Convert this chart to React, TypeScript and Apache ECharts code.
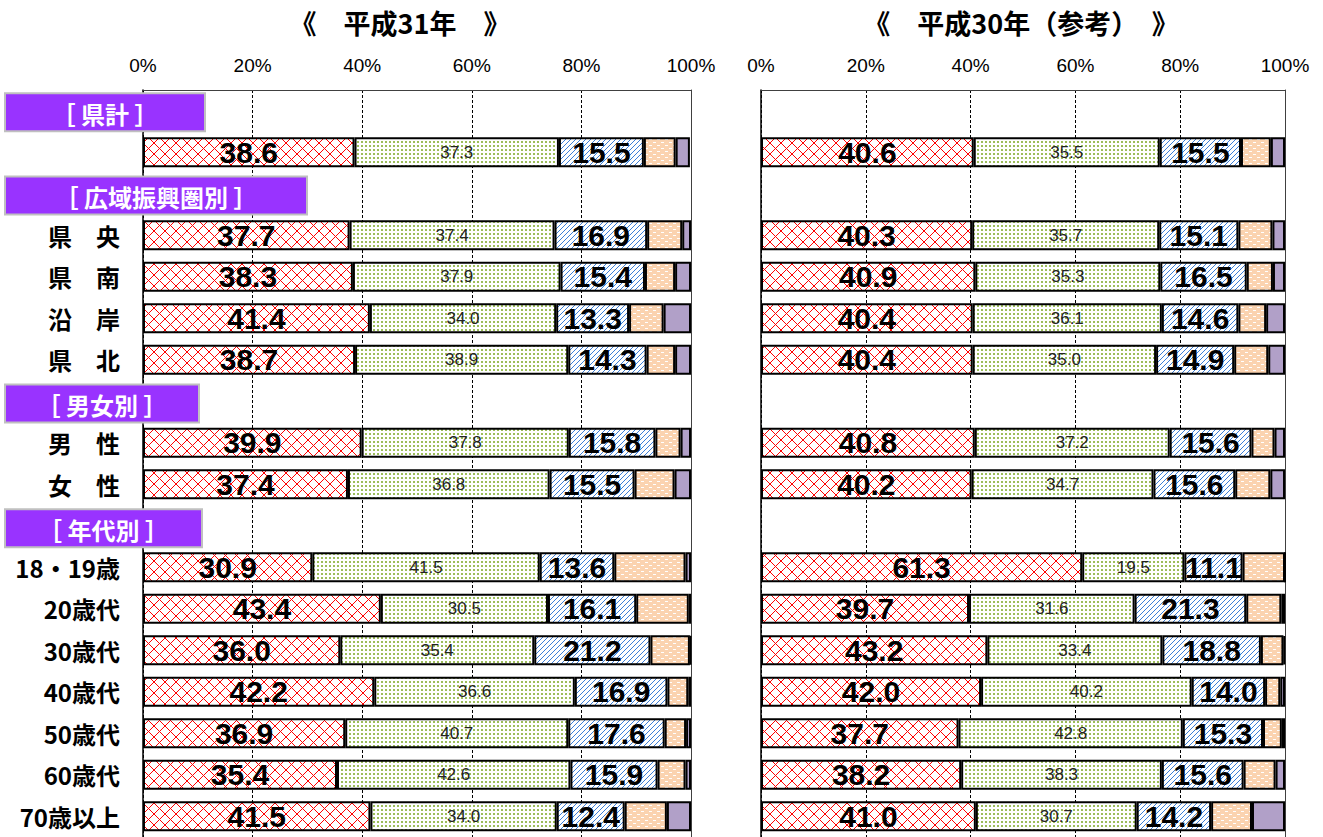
import React, { useEffect, useRef } from 'react';
import * as echarts from 'echarts';

// ---- data ----
const rowIds = ['h_total', 'total', 'h_region', 'kenou', 'kennan', 'engan', 'kenpoku', 'h_sex', 'male', 'female', 'h_age', 'a18', 'a20', 'a30', 'a40', 'a50', 'a60', 'a70'];
const rowLabels = ['', '', '', '県　央', '県　南', '沿　岸', '県　北', '', '男　性', '女　性', '', '18・19歳', '20歳代', '30歳代', '40歳代', '50歳代', '60歳代', '70歳以上'];

const headerTexts = ['［ 県計 ］', '［ 広域振興圏別 ］', '［ 男女別 ］', '［ 年代別 ］'];
const headerRows = [0, 2, 7, 10];

const titleLeft = '《　平成31年　》';
const titleRight = '《　平成30年（参考）　》';

const r31_s1 = [null, 38.6, null, 37.7, 38.3, 41.4, 38.7, null, 39.9, 37.4, null, 30.9, 43.4, 36.0, 42.2, 36.9, 35.4, 41.5];
const r31_s2 = [null, 37.3, null, 37.4, 37.9, 34.0, 38.9, null, 37.8, 36.8, null, 41.5, 30.5, 35.4, 36.6, 40.7, 42.6, 34.0];
const r31_s3 = [null, 15.5, null, 16.9, 15.4, 13.3, 14.3, null, 15.8, 15.5, null, 13.6, 16.1, 21.2, 16.9, 17.6, 15.9, 12.4];
const r31_s4 = [null, 5.8, null, 6.4, 5.5, 6.3, 5.2, null, 4.6, 7.3, null, 13.0, 9.6, 7.2, 3.8, 3.9, 5.1, 7.7];
const r31_s5 = [null, 2.6, null, 1.6, 2.9, 5.0, 2.9, null, 1.9, 3.0, null, 1.0, 0.4, 0.2, 0.5, 0.9, 1.0, 4.4];

const r30_s1 = [null, 40.6, null, 40.3, 40.9, 40.4, 40.4, null, 40.8, 40.2, null, 61.3, 39.7, 43.2, 42.0, 37.7, 38.2, 41.0];
const r30_s2 = [null, 35.5, null, 35.7, 35.3, 36.1, 35.0, null, 37.2, 34.7, null, 19.5, 31.6, 33.4, 40.2, 42.8, 38.3, 30.7];
const r30_s3 = [null, 15.5, null, 15.1, 16.5, 14.6, 14.9, null, 15.6, 15.6, null, 11.1, 21.3, 18.8, 14.0, 15.3, 15.6, 14.2];
const r30_s4 = [null, 5.7, null, 6.5, 5.0, 5.3, 6.5, null, 4.4, 6.7, null, 8.1, 6.7, 4.3, 2.9, 3.6, 6.1, 7.8];
const r30_s5 = [null, 2.7, null, 2.4, 2.3, 3.6, 3.2, null, 2.0, 2.8, null, 0, 0.7, 0.3, 0.9, 0.6, 1.8, 6.3];

// ---- layout / style constants ----
const GRID_TOP = 90;
const BAND = 41.6;
const GRID_H = BAND * rowIds.length;
const HEADER_WIDTHS = [200, 302, 194, 197];
const NUM_FONT = '"Liberation Sans","Arial",sans-serif';
const CJK_FONT = '"Noto Sans CJK JP","Noto Sans CJK SC",sans-serif';

function makePattern(w: number, h: number, draw: (ctx: CanvasRenderingContext2D) => void) {
  const c = document.createElement('canvas');
  c.width = w;
  c.height = h;
  const ctx = c.getContext('2d') as CanvasRenderingContext2D;
  draw(ctx);
  return { image: c.toDataURL(), repeat: 'repeat', imageWidth: w, imageHeight: h } as any;
}

export default function App() {
  const ref = useRef<HTMLDivElement>(null);

  useEffect(() => {
    if (!ref.current) return;
    const chart = echarts.init(ref.current, undefined, { renderer: 'svg' });

    const redPat = makePattern(11, 11, (ctx) => {
      ctx.fillStyle = '#fff';
      ctx.fillRect(0, 0, 11, 11);
      ctx.fillStyle = '#ff0000';
      for (let k = 0; k < 11; k++) {
        ctx.fillRect(k, k, 1, 1);
        ctx.fillRect(10 - k, k, 1, 1);
      }
    });
    const greenPat = makePattern(4, 4, (ctx) => {
      ctx.fillStyle = '#fff';
      ctx.fillRect(0, 0, 4, 4);
      ctx.fillStyle = '#9cbd5a';
      ctx.fillRect(1, 1, 2, 2);
    });
    const bluePat = makePattern(5, 5, (ctx) => {
      ctx.fillStyle = '#fff';
      ctx.fillRect(0, 0, 5, 5);
      ctx.fillStyle = '#3c7fd8';
      for (let k = 0; k < 5; k++) {
        ctx.fillRect(k, 4 - k, 1, 1);
      }
    });
    const orangePat = makePattern(8, 6, (ctx) => {
      ctx.fillStyle = '#fbd3b0';
      ctx.fillRect(0, 0, 8, 6);
      ctx.fillStyle = '#ffffff';
      ctx.fillRect(1, 1, 3, 1);
      ctx.fillRect(5, 4, 3, 1);
    });
    const purple = '#b1a0c8';

    const fmt = (p: any) => (p.value == null ? '' : Number(p.value).toFixed(1));
    const bigLabel = {
      show: true, position: 'inside', formatter: fmt, fontSize: 30, fontWeight: 'bold',
      color: '#000', fontFamily: NUM_FONT, textBorderWidth: 0,
    };
    const smallLabel = {
      show: true, position: 'inside', formatter: fmt, fontSize: 17, fontWeight: 'normal',
      color: '#222', fontFamily: NUM_FONT, textBorderWidth: 0,
    };

    const panels = [
      [r31_s1, r31_s2, r31_s3, r31_s4, r31_s5],
      [r30_s1, r30_s2, r30_s3, r30_s4, r30_s5],
    ];
    const fills = [redPat, greenPat, bluePat, orangePat, purple];
    const labels: any[] = [bigLabel, smallLabel, bigLabel, { show: false }, { show: false }];
    const names = ['s1', 's2', 's3', 's4', 's5'];

    const series: any[] = [];
    panels.forEach((arrs, gi) => {
      arrs.forEach((arr, si) => {
        series.push({
          type: 'bar',
          name: names[si] + '_' + gi,
          stack: 'g' + gi,
          xAxisIndex: gi,
          yAxisIndex: gi * 2,
          barWidth: 30,
          data: arr,
          itemStyle: { color: fills[si], borderColor: '#000', borderWidth: 2 },
          label: labels[si],
          emphasis: { disabled: true },
        });
      });
    });

    const xAxes = [0, 1].map((gi) => ({
      gridIndex: gi, type: 'value', min: 0, max: 100, interval: 20, position: 'top',
      axisLine: { show: true, lineStyle: { color: '#404040', width: 1 } },
      axisTick: { show: false },
      axisLabel: { formatter: '{value}%', fontSize: 19, color: '#000', fontFamily: NUM_FONT, margin: 15 },
      splitLine: { show: true, lineStyle: { type: [3, 2], color: '#000', width: 1 } },
    }));

    const yAxes: any[] = [];
    [0, 1].forEach((gi) => {
      yAxes.push({
        gridIndex: gi, type: 'category', data: rowIds, inverse: true, position: 'left',
        axisLine: { show: true, lineStyle: { color: '#000', width: 1.5 } },
        axisTick: { show: false },
        axisLabel: {
          show: gi === 0, formatter: (_v: string, idx: number) => rowLabels[idx],
          fontSize: 24, fontWeight: 'bold', color: '#000', fontFamily: CJK_FONT, margin: 23,
        },
      });
      yAxes.push({
        gridIndex: gi, type: 'category', data: rowIds, inverse: true, position: 'right',
        axisLine: { show: true, lineStyle: { color: '#404040', width: 1 } },
        axisTick: { show: false }, axisLabel: { show: false }, splitLine: { show: false },
      });
    });

    const graphic: any[] = [
      { type: 'text', x: 400, y: 22, z: 100, style: { text: titleLeft, fill: '#000', font: 'bold 27px ' + CJK_FONT, align: 'center', verticalAlign: 'middle' } },
      { type: 'text', x: 1021, y: 22, z: 100, style: { text: titleRight, fill: '#000', font: 'bold 27px ' + CJK_FONT, align: 'center', verticalAlign: 'middle' } },
    ];
    headerRows.forEach((row, i) => {
      const cy = GRID_TOP + (row + 0.5) * BAND + 1.5;
      const w = HEADER_WIDTHS[i];
      graphic.push({
        type: 'rect', z: 100, shape: { x: 5, y: cy - 19, width: w, height: 38 },
        style: { fill: '#9933ff', stroke: '#c0c0c0', lineWidth: 2 },
      });
      graphic.push({
        type: 'text', z: 101, x: 5 + w / 2, y: cy + 1,
        style: { text: headerTexts[i], fill: '#fff', font: 'bold 24px ' + CJK_FONT, align: 'center', verticalAlign: 'middle' },
      });
    });

    chart.setOption({
      animation: false,
      backgroundColor: '#fff',
      grid: [
        { left: 143, top: GRID_TOP, width: 548, height: GRID_H },
        { left: 761, top: GRID_TOP, width: 524, height: GRID_H },
      ],
      xAxis: xAxes,
      yAxis: yAxes,
      series,
      graphic,
    });

    return () => chart.dispose();
  }, []);

  return <div ref={ref} style={{ position: 'absolute', left: 0, top: 0, width: 1323, height: 837 }} />;
}
